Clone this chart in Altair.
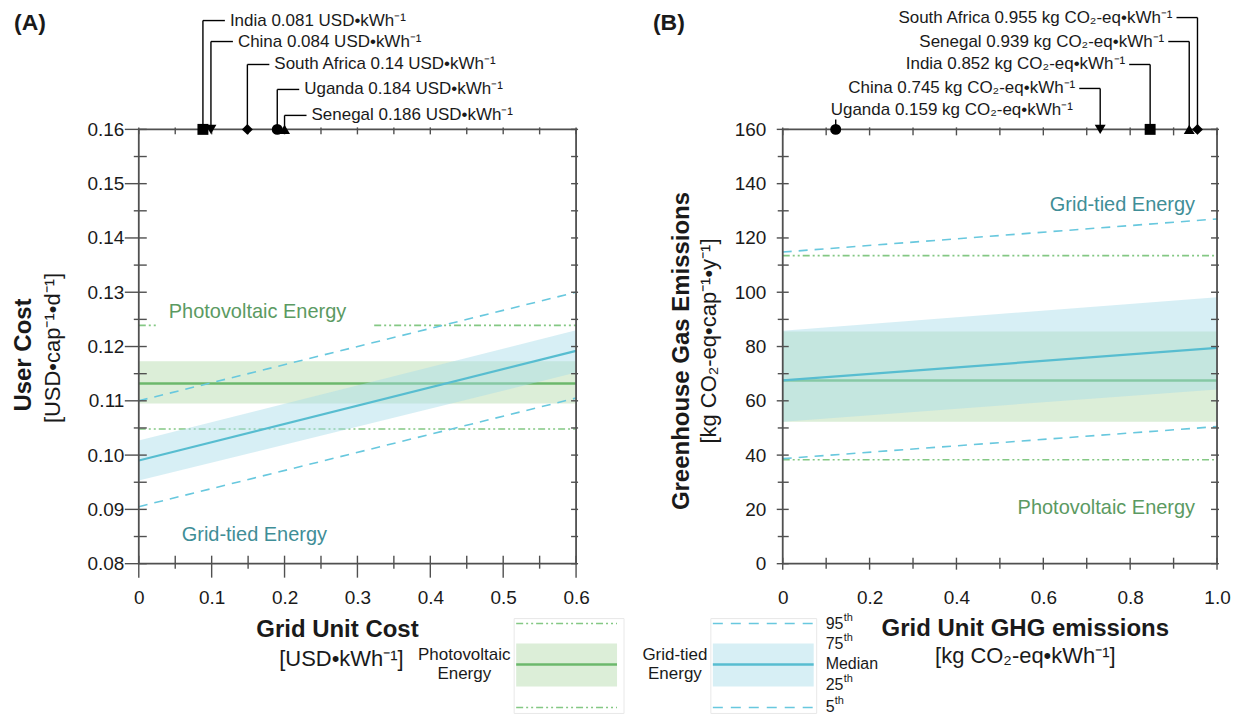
import altair as alt
import pandas as pd

FONT = "Liberation Sans"
INK = "#1a1a1a"
FRAME = "#505050"
PV_LINE = "#6cb86c"
PV_BAND = "#bfe0b8"
PV_DASH = "#84c884"
GRID_LINE = "#57bdd0"
GRID_BAND = "#a6dbe8"
GRID_DASH = "#68c8de"
PV_TEXT = "#5b9a62"
GRID_TEXT = "#3f8e97"
DASH_GRID = [9, 7]
DASH_PV = [7, 3, 2, 3, 2, 3]

# ---------------- data: panel A (user cost) ----------------
cost_grid_x = [0.0, 0.6]
cost_grid_p5 = [0.0905, 0.1105]
cost_grid_p25 = [0.0953, 0.1152]
cost_grid_p50 = [0.0990, 0.1192]
cost_grid_p75 = [0.1027, 0.1230]
cost_grid_p95 = [0.1100, 0.1300]
cost_pv_p5 = 0.1048
cost_pv_p25 = 0.1095
cost_pv_p50 = 0.1132
cost_pv_p75 = 0.1173
cost_pv_p95 = 0.1239
cost_pv_p95_gap = [0.025, 0.323]  # stretch of the 95th line hidden behind the label

cost_countries = ["India", "China", "South Africa", "Uganda", "Senegal"]
cost_marker_x = [0.088, 0.099, 0.149, 0.190, 0.200]
cost_labels = ["India 0.081 USD•kWh⁻¹", "China 0.084 USD•kWh⁻¹",
               "South Africa 0.14 USD•kWh⁻¹", "Uganda 0.184 USD•kWh⁻¹",
               "Senegal 0.186 USD•kWh⁻¹"]
cost_shapes = ["square", "triangle-down", "diamond", "circle", "triangle-up"]

cost_x_major = [0.0, 0.1, 0.2, 0.3, 0.4, 0.5, 0.6]
cost_x_minor = [0.05, 0.15, 0.25, 0.35, 0.45, 0.55]
cost_y_major = [0.08, 0.09, 0.10, 0.11, 0.12, 0.13, 0.14, 0.15, 0.16]
cost_y_minor = [0.085, 0.095, 0.105, 0.115, 0.125, 0.135, 0.145, 0.155]

# ---------------- data: panel B (GHG emissions) ----------------
ghg_grid_x = [0.0, 1.0]
ghg_grid_p5 = [38.7, 50.5]
ghg_grid_p25 = [52.3, 64.2]
ghg_grid_p50 = [67.5, 79.5]
ghg_grid_p75 = [85.8, 98.2]
ghg_grid_p95 = [114.8, 127.0]
ghg_pv_p5 = 38.3
ghg_pv_p25 = 52.3
ghg_pv_p50 = 67.5
ghg_pv_p75 = 85.5
ghg_pv_p95 = 113.5

ghg_countries = ["South Africa", "Senegal", "India", "China", "Uganda"]
ghg_marker_x = [0.955, 0.936, 0.846, 0.731, 0.122]
ghg_labels = ["South Africa 0.955 kg CO₂-eq•kWh⁻¹", "Senegal 0.939 kg CO₂-eq•kWh⁻¹",
              "India 0.852 kg CO₂-eq•kWh⁻¹", "China 0.745 kg CO₂-eq•kWh⁻¹",
              "Uganda 0.159 kg CO₂-eq•kWh⁻¹"]
ghg_shapes = ["diamond", "triangle-up", "square", "triangle-down", "circle"]

ghg_x_major = [0.0, 0.2, 0.4, 0.6, 0.8, 1.0]
ghg_x_minor = [0.1, 0.3, 0.5, 0.7, 0.9]
ghg_y_major = [0, 20, 40, 60, 80, 100, 120, 140, 160]
ghg_y_minor = [10, 30, 50, 70, 90, 110, 130, 150]

ONE = pd.DataFrame({"k": [0]})


def pv_frame(xdom, p5, p25, p50, p75, p95):
    n = len(xdom)
    return pd.DataFrame({"x": xdom, "p5": [p5] * n, "p25": [p25] * n,
                         "p50": [p50] * n, "p75": [p75] * n, "p95": [p95] * n})


def txt(s, x, y, size, color=INK, weight="normal", align="center",
        baseline="middle", angle=0, line_break=None):
    kw = dict(text=s, fontSize=size, font=FONT, color=color, fontWeight=weight,
              align=align, baseline=baseline, angle=angle)
    if line_break:
        kw["lineBreak"] = line_break
        kw["lineHeight"] = 20
    return alt.Chart(ONE).mark_text(**kw).encode(x=alt.value(x), y=alt.value(y))


def make_panel(p):
    W, H = p["W"], p["H"]
    xs = alt.Scale(domain=p["xdom"], nice=False, zero=False)
    ys = alt.Scale(domain=p["ydom"], nice=False, zero=False)

    def X(f):
        return alt.X(f, type="quantitative", scale=xs, axis=p["xaxis"])

    def Y(f):
        return alt.Y(f, type="quantitative", scale=ys, axis=p["yaxis"])

    L = []
    pv = p["pv"]
    grid = p["grid"]
    L.append(alt.Chart(pv).mark_area(color=PV_BAND, opacity=0.55)
             .encode(x=X("x"), y=Y("p25"), y2="p75"))
    L.append(alt.Chart(pv).mark_line(color=PV_LINE, strokeWidth=2.6)
             .encode(x=X("x"), y=Y("p50")))
    L.append(alt.Chart(pv).mark_line(color=PV_DASH, strokeWidth=1.6, strokeDash=DASH_PV)
             .encode(x=X("x"), y=Y("p5")))
    L.append(alt.Chart(p["pv95"]).mark_line(color=PV_DASH, strokeWidth=1.6, strokeDash=DASH_PV)
             .encode(x=X("x"), y=Y("p95"), detail="seg:N"))
    L.append(alt.Chart(grid).mark_area(color=GRID_BAND, opacity=0.45)
             .encode(x=X("x"), y=Y("p25"), y2="p75"))
    L.append(alt.Chart(grid).mark_line(color=GRID_LINE, strokeWidth=2.2)
             .encode(x=X("x"), y=Y("p50")))
    for col in ["p5", "p95"]:
        L.append(alt.Chart(grid).mark_line(color=GRID_DASH, strokeWidth=1.6, strokeDash=DASH_GRID)
                 .encode(x=X("x"), y=Y(col)))

    # ticks on all four sides
    t = p["ticks"]
    tk = dict(color=FRAME, strokeWidth=1.4)
    xmaj = pd.DataFrame({"t": t["xmaj"]})
    xmin = pd.DataFrame({"t": t["xmin"]})
    ymaj = pd.DataFrame({"t": t["ymaj"]})
    ymin = pd.DataFrame({"t": t["ymin"]})
    L.append(alt.Chart(ymaj).mark_rule(**tk).encode(y=Y("t"), x=alt.value(-t["lmaj"]), x2=alt.value(t["lin"])))
    L.append(alt.Chart(ymin).mark_rule(**tk).encode(y=Y("t"), x=alt.value(-t["lmin"]), x2=alt.value(t["lin"])))
    L.append(alt.Chart(xmaj).mark_rule(**tk).encode(x=X("t"), y=alt.value(H - t["lin"]), y2=alt.value(H + t["lmaj"])))
    L.append(alt.Chart(xmin).mark_rule(**tk).encode(x=X("t"), y=alt.value(H - t["lin"]), y2=alt.value(H + t["lmin"])))
    for df in (ymaj, ymin):
        L.append(alt.Chart(df).mark_rule(**tk).encode(y=Y("t"), x=alt.value(W - t["rin"]), x2=alt.value(W + t["rout"])))
    for df in (xmaj, xmin):
        L.append(alt.Chart(df).mark_rule(**tk).encode(x=X("t"), y=alt.value(-t["rout"]), y2=alt.value(t["rin"])))

    # frame
    L.append(alt.Chart(ONE).mark_rect(fill="white", fillOpacity=0, stroke=FRAME, strokeWidth=1.8)
             .encode(x=alt.value(0), x2=alt.value(W), y=alt.value(0), y2=alt.value(H)))

    # country markers on the top edge
    mk = pd.DataFrame({"country": p["countries"], "v": p["marker_x"], "label": p["labels"]})
    L.append(alt.Chart(mk).mark_point(filled=True, color="black", size=120, opacity=1)
             .encode(x=X("v"), y=alt.datum(p["ydom"][1]),
                     shape=alt.Shape("country:N", scale=alt.Scale(domain=p["countries"], range=p["shapes"]),
                                     legend=None)))
    for i, c in enumerate(p["countries"]):
        one = mk[mk["country"] == c]
        row = p["rows"][i]
        side = p["sides"][i]
        if side == "up":
            L.append(alt.Chart(one).mark_rule(color="black", strokeWidth=1.4)
                     .encode(x=X("v"), y=alt.value(row + 9), y2=alt.value(0)))
            L.append(alt.Chart(one).mark_text(align="left", dx=-5, baseline="middle", fontSize=17, font=FONT, color=INK)
                     .encode(x=X("v"), y=alt.value(row), text="label:N"))
            continue
        L.append(alt.Chart(one).mark_rule(color="black", strokeWidth=1.4)
                 .encode(x=X("v"), y=alt.value(row), y2=alt.value(0)))
        if side == "right":
            L.append(alt.Chart(one).mark_rule(color="black", strokeWidth=1.4, x2Offset=22)
                     .encode(x=X("v"), x2="v", y=alt.value(row)))
            L.append(alt.Chart(one).mark_text(align="left", dx=27, baseline="middle", fontSize=17, font=FONT, color=INK)
                     .encode(x=X("v"), y=alt.value(row), text="label:N"))
        else:
            L.append(alt.Chart(one).mark_rule(color="black", strokeWidth=1.4, xOffset=-21)
                     .encode(x=X("v"), x2="v", y=alt.value(row)))
            L.append(alt.Chart(one).mark_text(align="right", dx=-25, baseline="middle", fontSize=17, font=FONT, color=INK)
                     .encode(x=X("v"), y=alt.value(row), text="label:N"))

    L.extend(p["extra"])
    return alt.layer(*L).properties(width=W, height=H)


def axis(values, expr, pad):
    return alt.Axis(values=values, labelExpr=expr, ticks=False, domain=False, grid=False, title=None,
                    labelFont=FONT, labelFontSize=19, labelColor=INK, labelPadding=pad,
                    labelFlush=False, labelOverlap=False)


# ---------------- panel A ----------------
WA, HA = 438, 435
cost_pv95_df = pd.DataFrame({
    "x": [cost_grid_x[0], cost_pv_p95_gap[0], cost_pv_p95_gap[1], cost_grid_x[1]],
    "p95": [cost_pv_p95] * 4,
    "seg": [0, 0, 1, 1]})

extraA = [
    txt("Photovoltaic Energy", 30, 183, 20, PV_TEXT, align="left"),
    txt("Grid-tied Energy", 43, 406, 20, GRID_TEXT, align="left"),
    txt("(A)", -125, -107, 23, weight="bold", align="left"),
    txt("User Cost", -115, 226, 24, weight="bold", angle=270),
    txt("[USD•cap⁻¹•d⁻¹]", -86, 219, 22, angle=270),
    txt("Grid Unit Cost", 199, 501, 24, weight="bold"),
    txt("[USD•kWh⁻¹]", 203, 530, 22),
]

# legend (drawn below panel A)
leg = []
leg.append(alt.Chart(ONE).mark_rect(fill="white", stroke="#e8e8e8", strokeWidth=1)
           .encode(x=alt.value(376), x2=alt.value(486), y=alt.value(490), y2=alt.value(585)))
leg.append(alt.Chart(ONE).mark_rect(fill="white", stroke="#e8e8e8", strokeWidth=1)
           .encode(x=alt.value(573), x2=alt.value(679), y=alt.value(490), y2=alt.value(585)))
leg.append(alt.Chart(ONE).mark_rect(color=PV_BAND, opacity=0.55)
           .encode(x=alt.value(378), x2=alt.value(479), y=alt.value(515), y2=alt.value(558)))
leg.append(alt.Chart(ONE).mark_rect(color=GRID_BAND, opacity=0.45)
           .encode(x=alt.value(575), x2=alt.value(676), y=alt.value(515), y2=alt.value(558)))
leg.append(alt.Chart(ONE).mark_rule(color=PV_LINE, strokeWidth=2.6)
           .encode(x=alt.value(378), x2=alt.value(479), y=alt.value(536)))
leg.append(alt.Chart(ONE).mark_rule(color=GRID_LINE, strokeWidth=2.6)
           .encode(x=alt.value(575), x2=alt.value(676), y=alt.value(536)))
for yy in (495, 579):
    leg.append(alt.Chart(ONE).mark_rule(color=PV_DASH, strokeWidth=1.6, strokeDash=DASH_PV)
               .encode(x=alt.value(378), x2=alt.value(479), y=alt.value(yy)))
    leg.append(alt.Chart(ONE).mark_rule(color=GRID_DASH, strokeWidth=1.6, strokeDash=[10, 8])
               .encode(x=alt.value(575), x2=alt.value(676), y=alt.value(yy)))
leg.append(txt("Photovoltaic\nEnergy", 326, 526, 17, line_break="\n"))
leg.append(txt("Grid-tied\nEnergy", 537, 526, 17, line_break="\n"))
for lab, yy, nw in [("95", 495, 18), ("75", 515, 18), ("Median", 536, 0), ("25", 557, 18), ("5", 579, 9)]:
    leg.append(txt(lab, 688, yy, 16, align="left"))
    if nw:
        leg.append(txt("th", 688 + nw, yy - 6, 11, align="left"))

panelA = make_panel(dict(
    W=WA, H=HA, xdom=[0, 0.6], ydom=[0.08, 0.16],
    xaxis=axis(cost_x_major, "datum.value == 0 ? '0' : format(datum.value, '.1f')", 25),
    yaxis=axis(cost_y_major, "format(datum.value, '.2f')", 15),
    pv=pv_frame(cost_grid_x, cost_pv_p5, cost_pv_p25, cost_pv_p50, cost_pv_p75, cost_pv_p95),
    pv95=cost_pv95_df,
    grid=pd.DataFrame({"x": cost_grid_x, "p5": cost_grid_p5, "p25": cost_grid_p25,
                       "p50": cost_grid_p50, "p75": cost_grid_p75, "p95": cost_grid_p95}),
    ticks=dict(xmaj=cost_x_major, xmin=cost_x_minor, ymaj=cost_y_major, ymin=cost_y_minor,
               lmaj=14, lmin=5, lin=8, rin=5, rout=2),
    countries=cost_countries, marker_x=cost_marker_x, labels=cost_labels, shapes=cost_shapes,
    rows=[-109, -88, -65, -40, -14], sides=["right"] * 5,
    extra=extraA + leg,
))

# ---------------- panel B ----------------
WB, HB = 435, 435
ghg_pv = pv_frame(ghg_grid_x, ghg_pv_p5, ghg_pv_p25, ghg_pv_p50, ghg_pv_p75, ghg_pv_p95)
ghg_pv95_df = pd.DataFrame({"x": ghg_grid_x, "p95": [ghg_pv_p95] * 2, "seg": [0, 0]})
extraB = [
    txt("Grid-tied Energy", 413, 76, 20, GRID_TEXT, align="right"),
    txt("Photovoltaic Energy", 413, 379, 20, PV_TEXT, align="right"),
    txt("(B)", -130, -107, 23, weight="bold", align="left"),
    txt("Greenhouse Gas Emissions", -101, 222, 24, weight="bold", angle=270),
    txt("[kg CO₂-eq•cap⁻¹•y⁻¹]", -74, 212, 22, angle=270),
    txt("Grid Unit GHG emissions", 243, 500, 24, weight="bold"),
    txt("[kg CO₂-eq•kWh⁻¹]", 243, 527, 22),
]
panelB = make_panel(dict(
    W=WB, H=HB, xdom=[0, 1.0], ydom=[0, 160],
    xaxis=axis(ghg_x_major, "datum.value == 0 ? '0' : format(datum.value, '.1f')", 25),
    yaxis=axis(ghg_y_major, "format(datum.value, 'd')", 17),
    pv=ghg_pv, pv95=ghg_pv95_df,
    grid=pd.DataFrame({"x": ghg_grid_x, "p5": ghg_grid_p5, "p25": ghg_grid_p25,
                       "p50": ghg_grid_p50, "p75": ghg_grid_p75, "p95": ghg_grid_p95}),
    ticks=dict(xmaj=ghg_x_major, xmin=ghg_x_minor, ymaj=ghg_y_major, ymin=ghg_y_minor,
               lmaj=6, lmin=5, lin=6, rin=6, rout=2),
    countries=ghg_countries, marker_x=ghg_marker_x, labels=ghg_labels, shapes=ghg_shapes,
    rows=[-112, -88, -65, -41, -19], sides=["left", "left", "left", "left", "up"],
    extra=extraB,
))

chart = alt.hconcat(panelA, panelB, spacing=207, bounds="flush").properties(
    padding={"left": 4, "top": 0, "right": 0, "bottom": 0}
).configure_view(stroke="transparent", strokeWidth=0)

chart.save("out.html", embed_options={"renderer": "svg", "actions": False})
